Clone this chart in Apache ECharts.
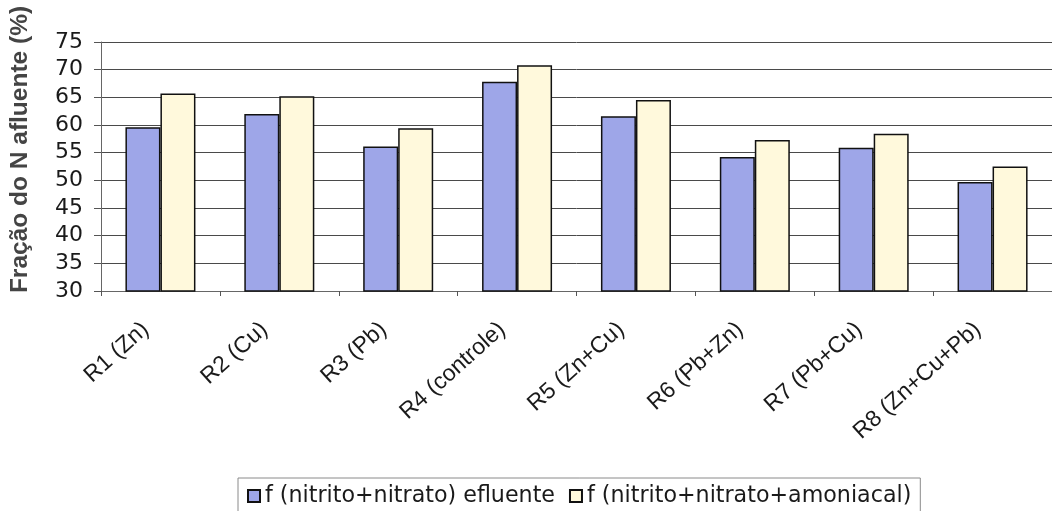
<!DOCTYPE html>
<html>
<head>
<meta charset="utf-8">
<style>
  html, body { margin: 0; padding: 0; background: #ffffff; }
  #chart { width: 1052px; height: 511px; }
</style>
<script src="https://cdn.jsdelivr.net/npm/echarts@6/dist/echarts.min.js"></script>
</head>
<body>
<div id="chart"></div>
<script>
// Reactor treatments
const categories = ['R1 (Zn)', 'R2 (Cu)', 'R3 (Pb)', 'R4 (controle)', 'R5 (Zn+Cu)', 'R6 (Pb+Zn)', 'R7 (Pb+Cu)', 'R8 (Zn+Cu+Pb)'];
// Fraction of influent N (%)
const efluente = [59.6, 62.0, 56.1, 67.8, 61.6, 54.2, 55.9, 49.7];
const amoniacal = [65.7, 65.2, 59.4, 70.8, 64.5, 57.3, 58.4, 52.5];
const seriesNames = ['f (nitrito+nitrato) efluente', 'f (nitrito+nitrato+amoniacal)'];
const yTitle = 'Fração do N afluente (%)';

const chart = echarts.init(document.getElementById('chart'), null, { renderer: 'canvas' });

const barBorder = { borderColor: '#111111', borderWidth: 1.5 };

chart.setOption({
  animation: false,
  backgroundColor: '#ffffff',
  grid: { left: 98, top: 42, bottom: 220, right: -10, containLabel: false },
  legend: {
    left: 238,
    top: 478,
    orient: 'horizontal',
    padding: [5, 9, 12, 9],
    itemWidth: 12,
    itemHeight: 12,
    itemGap: 14,
    borderColor: '#8a8a8a',
    borderWidth: 1,
    icon: 'rect',
    textStyle: { fontFamily: 'DejaVu Sans', fontSize: 22.2, color: '#1a1a1a', lineHeight: 26 },
    data: seriesNames
  },
  xAxis: {
    type: 'category',
    data: categories,
    axisLine: { show: true, lineStyle: { color: '#666666', width: 1 } },
    axisTick: { show: true, length: 5, inside: false, lineStyle: { color: '#555555' } },
    axisLabel: {
      rotate: 42,
      margin: 22,
      interval: 0,
      padding: [0, 20, 0, 0],
      fontFamily: 'Liberation Sans',
      fontSize: 23,
      color: '#1a1a1a'
    },
    splitLine: { show: false }
  },
  yAxis: {
    type: 'value',
    min: 30,
    max: 75,
    interval: 5,
    name: yTitle,
    nameLocation: 'middle',
    nameGap: 68,
    nameRotate: 90,
    nameTextStyle: {
      fontFamily: 'Liberation Sans',
      fontSize: 24.5,
      fontWeight: 'bold',
      color: '#444444',
      padding: [0, 0, 0, 34]
    },
    axisLine: { show: true, lineStyle: { color: '#666666', width: 1 } },
    axisTick: { show: true, length: 7, lineStyle: { color: '#555555' } },
    axisLabel: { fontFamily: 'DejaVu Sans', fontSize: 22, color: '#1a1a1a', margin: 18 },
    splitLine: { show: true, lineStyle: { color: '#4a4a4a', width: 1 } }
  },
  series: [
    {
      name: seriesNames[0],
      type: 'bar',
      data: efluente,
      barWidth: 35,
      barGap: '0%',
      itemStyle: Object.assign({ color: '#9ea6e8' }, barBorder)
    },
    {
      name: seriesNames[1],
      type: 'bar',
      data: amoniacal,
      barWidth: 35,
      barGap: '0%',
      itemStyle: Object.assign({ color: '#fff9dc' }, barBorder)
    }
  ]
});
</script>
</body>
</html>
